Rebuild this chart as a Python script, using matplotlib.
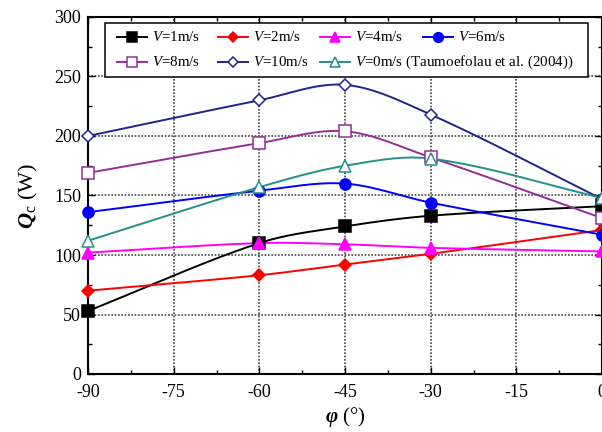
import numpy as np
import matplotlib
matplotlib.use("Agg")
import matplotlib.pyplot as plt
from matplotlib.lines import Line2D
from matplotlib.patches import Rectangle
from matplotlib.ticker import MultipleLocator

plt.rcParams['font.family'] = ['Liberation Serif', 'DejaVu Serif']
plt.rcParams['mathtext.fontset'] = 'custom'
plt.rcParams['mathtext.rm'] = 'Liberation Serif'
plt.rcParams['mathtext.it'] = 'Liberation Serif:italic'
plt.rcParams['mathtext.bf'] = 'Liberation Serif:bold'
plt.rcParams['mathtext.bfit'] = 'Liberation Serif:bold:italic'
plt.rcParams['axes.unicode_minus'] = False

# Inclination angle (deg) and convective heat loss (W)
phi = [-90, -60, -45, -30, 0]
q_v1 = [53, 110, 124, 133, 141]
q_v2 = [70, 83, 92, 101, 121]
q_v4 = [102, 110, 109, 106, 103]
q_v6 = [136, 154, 160, 144, 117]
q_v8 = [169, 194, 204, 182, 131]
q_v10 = [200, 230, 243, 218, 147]
q_v0 = [112, 157, 175, 181, 148]

labels = [r"$V$=1m/s", r"$V$=2m/s", r"$V$=4m/s", r"$V$=6m/s",
          r"$V$=8m/s", r"$V$=10m/s", r"$V$=0m/s (Taumoefolau et al. (2004))"]
series = [q_v1, q_v2, q_v4, q_v6, q_v8, q_v10, q_v0]
colors = ['black', '#ff0000', '#ff00ff', '#0000ff', '#952d99', '#23238c', '#24908c']
markers = ['s', 'D', '^', 'o', 's', 'D', '^']
filled = [True, True, True, True, False, False, False]
msizes = [8, 6.5, 8, 8, 8, 6.5, 8]


def smooth(x, y, n=40):
    """Cubic Hermite curve through the points with Catmull-Rom tangents."""
    x = np.asarray(x, float)
    y = np.asarray(y, float)
    m = np.empty_like(y)
    m[0] = (y[1] - y[0]) / (x[1] - x[0])
    m[-1] = (y[-1] - y[-2]) / (x[-1] - x[-2])
    for i in range(1, len(x) - 1):
        m[i] = (y[i + 1] - y[i - 1]) / (x[i + 1] - x[i - 1])
    xs, ys = [], []
    for i in range(len(x) - 1):
        h = x[i + 1] - x[i]
        t = np.linspace(0, 1, n, endpoint=False)
        h00 = 2 * t**3 - 3 * t**2 + 1
        h10 = t**3 - 2 * t**2 + t
        h01 = -2 * t**3 + 3 * t**2
        h11 = t**3 - t**2
        xs.append(x[i] + t * h)
        ys.append(h00 * y[i] + h10 * h * m[i] + h01 * y[i + 1] + h11 * h * m[i + 1])
    xs.append([x[-1]])
    ys.append([y[-1]])
    return np.concatenate(xs), np.concatenate(ys)


W, H = 602, 432
fig = plt.figure(figsize=(W / 100, H / 100), dpi=100)
ax = fig.add_axes([88 / W, 58 / H, 514 / W, 357 / H])

for y, c, mk, fl, ms in zip(series, colors, markers, filled, msizes):
    sx, sy = smooth(phi, y)
    ax.plot(sx, sy, color=c, lw=1.4, zorder=3, clip_on=False)
    ax.plot(phi, y, ls='none', marker=mk, ms=ms, color=c,
            mfc=c if fl else 'white', mec=c, mew=1.1, zorder=4, clip_on=False)

ax.set_xlim(-90, 0)
ax.set_ylim(0, 300)
ax.xaxis.set_major_locator(MultipleLocator(15))
ax.xaxis.set_minor_locator(MultipleLocator(7.5))
ax.yaxis.set_major_locator(MultipleLocator(50))
ax.yaxis.set_minor_locator(MultipleLocator(25))
ax.tick_params(which='both', direction='in', top=True, right=True, labelsize=13)
ax.tick_params(axis='x', pad=7)
ax.tick_params(axis='y', pad=5)
ax.tick_params(which='major', length=5, width=1)
ax.tick_params(which='minor', length=3, width=1)

ax.grid(True, which='major', color='#444444', lw=1.2, ls=(0, (1, 1)), zorder=1)
for s in ax.spines.values():
    s.set_linewidth(1.5)

ax.set_ylabel(r"$\mathbfit{Q}_{\mathrm{c}}$ (W)", fontsize=16, labelpad=10)
ax.set_xlabel(r"$\mathbfit{\varphi}$ (°)", fontsize=15, labelpad=3)


# Legend box: two rows laid out in figure pixels
def fx(px):
    return px / W


def fy(py):
    return 1 - py / H


fig.add_artist(Rectangle((fx(105), fy(77)), fx(588) - fx(105), fy(23) - fy(77),
                         transform=fig.transFigure, facecolor='white',
                         edgecolor='black', lw=1.1, zorder=5))
slots = [(117, 37), (218, 37), (320, 37), (423, 37),
         (117, 62), (218, 62), (320, 62)]
for (px, py), lab, c, mk, fl, ms in zip(slots, labels, colors, markers, filled, msizes):
    fig.add_artist(Line2D([fx(px), fx(px + 30)], [fy(py), fy(py)],
                          transform=fig.transFigure, color=c, lw=1.4, zorder=6))
    fig.add_artist(Line2D([fx(px + 15)], [fy(py)], transform=fig.transFigure,
                          ls='none', marker=mk, ms=ms - 1, color=c,
                          mfc=c if fl else 'white', mec=c, mew=1.1, zorder=7))
    fig.text(fx(px + 35), fy(py), lab, fontsize=10.8, va='center', ha='left',
             zorder=7)

fig.savefig("out.png", dpi=100)
